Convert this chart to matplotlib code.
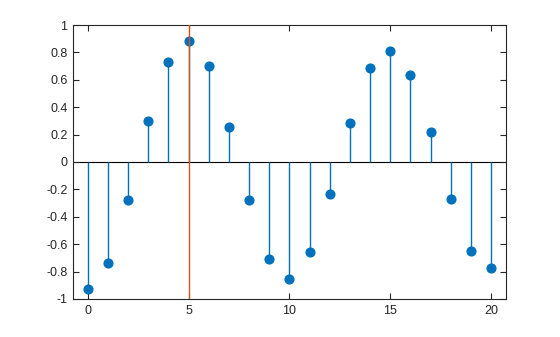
import matplotlib
matplotlib.use("Agg")
from matplotlib import pyplot as plt

n = list(range(21))
y = [-0.927, -0.740, -0.280, 0.297, 0.728, 0.881, 0.699, 0.253, -0.280, -0.710,
     -0.856, -0.659, -0.236, 0.282, 0.684, 0.808, 0.633, 0.217, -0.272, -0.652,
     -0.776]
xline_at = 5

plt.rcParams['font.family'] = ['Liberation Sans', 'DejaVu Sans']

fig = plt.figure(figsize=(5.6, 3.37), dpi=100)
ax = fig.add_axes([0.1304, 0.1128, 0.7732, 0.813])

blue = '#0072BD'
ax.axhline(0, color='black', lw=0.8, zorder=1)
ax.vlines(n, 0, y, color=blue, lw=1, zorder=2)
ax.plot(n, y, 'o', color=blue, ms=6.3, mec=blue, zorder=3)
ax.axvline(xline_at, color='#D95319', lw=1, zorder=4)

ax.set_xlim(-0.73, 20.74)
ax.set_ylim(-1, 1)
ax.set_xticks([0, 5, 10, 15, 20])
ax.set_yticks([-1, -0.8, -0.6, -0.4, -0.2, 0, 0.2, 0.4, 0.6, 0.8, 1])
ax.set_yticklabels(['-1', '-0.8', '-0.6', '-0.4', '-0.2', '0', '0.2', '0.4', '0.6', '0.8', '1'])

for s in ax.spines.values():
    s.set_color('#262626')
    s.set_linewidth(0.8)
ax.tick_params(direction='in', top=True, right=True, length=4, width=0.8,
               color='#262626', labelcolor='#262626', labelsize=9, pad=4)

fig.savefig('out.png', dpi=100)
